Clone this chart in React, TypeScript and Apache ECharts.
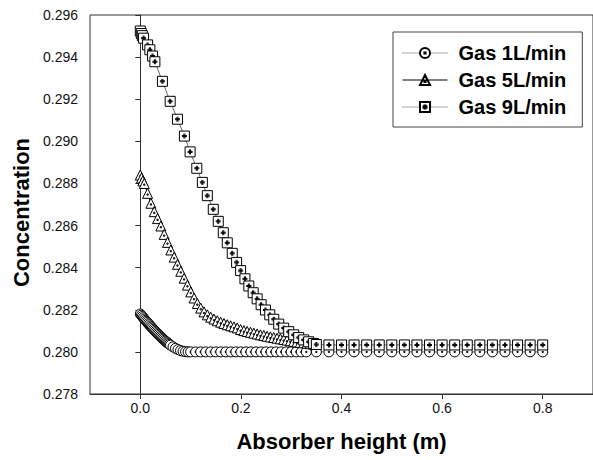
import React, { useEffect, useRef } from "react";
import * as echarts from "echarts";

const FONT = '"Liberation Sans", Arial, Helvetica, sans-serif';

const SERIES_NAMES = ["Gas 1L/min", "Gas 5L/min", "Gas 9L/min"];
const X_TICKS = [0, 0.2, 0.4, 0.6, 0.8];

// shared x grid for the flat tail
const FLAT_X = [0.35, 0.375, 0.4, 0.425, 0.45, 0.475, 0.5, 0.525, 0.55, 0.575, 0.6, 0.625, 0.65, 0.675, 0.7, 0.725, 0.75, 0.775, 0.8];

const gas1X = [
  0, 0.002, 0.004, 0.006, 0.008, 0.01, 0.012, 0.014, 0.016, 0.018, 0.02, 0.022, 0.024, 0.026, 0.028, 0.03, 0.032, 0.034, 0.036, 0.038,
  0.04, 0.042, 0.044, 0.046, 0.048, 0.05, 0.052, 0.054, 0.056, 0.058, 0.06, 0.065, 0.07, 0.075, 0.08, 0.085, 0.09, 0.095, 0.1,
  0.11, 0.12, 0.13, 0.14, 0.15, 0.16, 0.17, 0.18, 0.19, 0.2, 0.21, 0.22, 0.23, 0.24, 0.25, 0.26, 0.27, 0.28, 0.29, 0.3, 0.31, 0.32, 0.33,
  ...FLAT_X,
];
const gas1Y = [
  0.2818, 0.28174, 0.28168, 0.28162, 0.28156, 0.2815, 0.28145, 0.2814, 0.28134, 0.28129, 0.28123, 0.28118, 0.28113, 0.28107, 0.28102, 0.28097, 0.28092, 0.28087, 0.28083, 0.28078,
  0.28073, 0.28069, 0.28064, 0.2806, 0.28055, 0.28051, 0.28047, 0.28043, 0.28039, 0.28036, 0.28032, 0.28024, 0.28017, 0.28011, 0.28006, 0.28003, 0.28001, 0.28, 0.28,
  0.28, 0.28, 0.28, 0.28, 0.28, 0.28, 0.28, 0.28, 0.28, 0.28, 0.28, 0.28, 0.28, 0.28, 0.28, 0.28, 0.28, 0.28, 0.28, 0.28, 0.28, 0.28, 0.28,
  0.28, 0.28, 0.28, 0.28, 0.28, 0.28, 0.28, 0.28, 0.28, 0.28, 0.28, 0.28, 0.28, 0.28, 0.28, 0.28, 0.28, 0.28, 0.28,
];

const gas5X = [
  0, 0.0025, 0.005, 0.0079, 0.0145, 0.0211, 0.0277, 0.0343, 0.0409, 0.0475, 0.0541, 0.0607, 0.0673, 0.0739, 0.0805, 0.0871, 0.0937, 0.1003,
  0.1069, 0.1135, 0.1201, 0.1267, 0.1333, 0.1399, 0.1465, 0.1531, 0.1597, 0.1663, 0.1729, 0.1795, 0.1861, 0.1927, 0.1993, 0.2059, 0.2125,
  0.2191, 0.2257, 0.2323, 0.2389, 0.2455, 0.2521, 0.2587, 0.2653, 0.2719, 0.2785, 0.2851, 0.2917, 0.2983, 0.3049, 0.3115, 0.3181, 0.3247,
  0.3313, 0.3379, 0.3445,
];
const gas5Y = [
  0.2884, 0.28826, 0.28812, 0.288, 0.28753, 0.28706, 0.28666, 0.28633, 0.28598, 0.28558, 0.2852, 0.28484, 0.2845, 0.28416, 0.28383, 0.2835, 0.28317, 0.28285,
  0.28256, 0.2823, 0.28208, 0.2819, 0.28176, 0.28165, 0.28156, 0.28148, 0.28141, 0.28135, 0.28129, 0.28124, 0.28119, 0.28114, 0.28106, 0.28101, 0.28097,
  0.28093, 0.28089, 0.28085, 0.28081, 0.28078, 0.28074, 0.28071, 0.28068, 0.28065, 0.28062, 0.28059, 0.28056, 0.28053, 0.2805, 0.28047, 0.28045, 0.28043,
  0.28041, 0.28039, 0.28037,
];

const gas9X = [
  0, 0.002, 0.004, 0.0065, 0.0145, 0.019, 0.0244, 0.029, 0.044, 0.0594, 0.0739, 0.0877, 0.099, 0.1123, 0.1234, 0.1333, 0.1451, 0.155, 0.165,
  0.1729, 0.1828, 0.1915, 0.1994, 0.208, 0.2158, 0.2244, 0.2323, 0.2402, 0.2489, 0.2574, 0.2653, 0.2752, 0.2851, 0.295, 0.305, 0.3149, 0.3248, 0.3347, 0.3446,
  ...FLAT_X,
];
const gas9Y = [
  0.29524, 0.29512, 0.29502, 0.2949, 0.29458, 0.29435, 0.29405, 0.29378, 0.29285, 0.2919, 0.29105, 0.29025, 0.2895, 0.28872, 0.28805, 0.28742, 0.28677, 0.2862, 0.28566,
  0.28518, 0.28468, 0.28425, 0.28386, 0.28347, 0.28313, 0.28281, 0.28252, 0.28224, 0.28199, 0.28176, 0.28155, 0.28132, 0.28113, 0.28096, 0.28081, 0.28068, 0.28057, 0.28048, 0.2804,
  0.28035, 0.28033, 0.28033, 0.28033, 0.28033, 0.28033, 0.28033, 0.28033, 0.28033, 0.28033, 0.28033, 0.28033, 0.28033, 0.28033, 0.28033, 0.28033, 0.28033, 0.28033, 0.28033,
];

const SYM_CIRCLE = "path://M5 0A5 5 0 1 1 5 10A5 5 0 1 1 5 0Z M4.4 4.4H5.6V5.6H4.4Z";
const SYM_TRIANGLE = "path://M5 0L10 9H0Z M4.4 5H5.6V6.2H4.4Z";
const SYM_SQUARE = "path://M0 0H10V10H0Z M4.5 2.5V7.5 M5.5 2.5V7.5 M2.5 4.5H7.5 M2.5 5.5H7.5";

function zip(xs: number[], ys: number[]) {
  return xs.map((x, i) => [x, ys[i]]);
}

export default function App() {
  const ref = useRef<HTMLDivElement>(null);
  useEffect(() => {
    if (!ref.current) return;
    const chart = echarts.init(ref.current, undefined, { renderer: "svg" });
    const axisColor = "#333";
    const mk = (name: string, data: number[][], symbol: string, size: number, lw: number, lc: string) => ({
      name,
      type: "line",
      data,
      symbol,
      symbolSize: size,
      showAllSymbol: true,
      itemStyle: { color: "#fff", borderColor: "#000", borderWidth: 1 },
      lineStyle: { color: lc, width: lw },
      emphasis: { disabled: true },
    });
    chart.setOption({
      animation: false,
      backgroundColor: "#fff",
      grid: { left: 90, top: 15, right: -2.5, bottom: 66, show: true, borderColor: axisColor, borderWidth: 1 },
      legend: {
        orient: "vertical",
        left: 393,
        top: 32,
        padding: [11, 16, 10, 9],
        itemWidth: 45,
        itemHeight: 12.5,
        itemGap: 7,
        borderColor: "#444",
        borderWidth: 1,
        backgroundColor: "#fff",
        textStyle: { fontSize: 20, fontWeight: "bold", color: "#000", fontFamily: FONT, padding: [0, 0, 0, 6] },
        data: [
          { name: SERIES_NAMES[0], lineStyle: { type: "dotted", width: 1, color: "#555" } },
          { name: SERIES_NAMES[1], lineStyle: { type: "solid", width: 1, color: "#000" } },
          { name: SERIES_NAMES[2], lineStyle: { type: "dotted", width: 1, color: "#555" } },
        ],
      },
      xAxis: {
        type: "value",
        min: -0.1,
        max: 0.9,
        name: "Absorber height (m)",
        nameLocation: "middle",
        nameGap: 36,
        nameTextStyle: { fontSize: 22, fontWeight: "bold", color: "#000", fontFamily: FONT },
        axisLine: { show: true, lineStyle: { color: axisColor, width: 1 } },
        axisTick: { show: true, length: 5, customValues: X_TICKS, lineStyle: { color: axisColor } },
        axisLabel: {
          customValues: X_TICKS,
          margin: 7,
          fontSize: 14,
          color: "#111",
          fontFamily: FONT,
          formatter: (v: number) => v.toFixed(1),
        },
        splitLine: { show: false },
      },
      yAxis: {
        type: "value",
        min: 0.278,
        max: 0.296,
        interval: 0.002,
        name: "Concentration",
        nameLocation: "middle",
        nameGap: 57,
        nameTextStyle: { fontSize: 22, fontWeight: "bold", color: "#000", fontFamily: FONT, padding: [0, 16, 0, 0] },
        axisLine: { show: true, lineStyle: { color: axisColor, width: 1 } },
        axisTick: { show: true, length: 5, lineStyle: { color: axisColor } },
        axisLabel: {
          margin: 12,
          fontSize: 14,
          color: "#111",
          fontFamily: FONT,
          formatter: (v: number) => v.toFixed(3),
        },
        splitLine: { show: false },
      },
      series: [
        mk(SERIES_NAMES[0], zip(gas1X, gas1Y), SYM_CIRCLE, 10, 0.8, "#444"),
        mk(SERIES_NAMES[1], zip(gas5X, gas5Y), SYM_TRIANGLE, 10, 1, "#000"),
        mk(SERIES_NAMES[2], zip(gas9X, gas9Y), SYM_SQUARE, 10, 0.8, "#444"),
      ],
    });
    return () => chart.dispose();
  }, []);
  return <div ref={ref} style={{ width: 593, height: 460, position: "absolute", left: 0, top: 0 }} />;
}
